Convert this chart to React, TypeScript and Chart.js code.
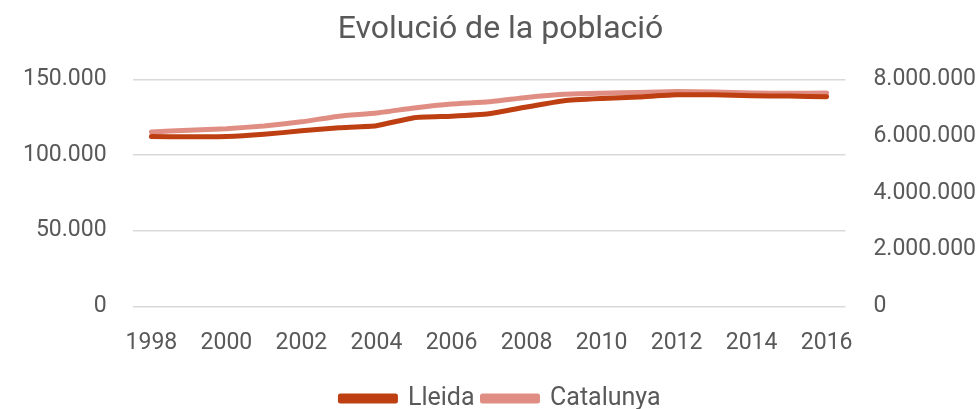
import React, { useEffect, useRef } from "react";
import { Chart, registerables } from "chart.js";

Chart.register(...registerables);

const years = ["1998","1999","2000","2001","2002","2003","2004","2005","2006","2007","2008","2009","2010","2011","2012","2013","2014","2015","2016"];
const lleida = [112194,112035,112199,113686,115995,118035,119380,124709,125677,127314,131731,135919,137387,138416,139834,139809,139176,138956,138542];
const catalunya = [6147610,6207533,6261999,6361365,6506440,6704146,6813319,6995206,7134697,7210508,7364078,7475420,7512381,7539618,7570908,7553650,7518903,7508106,7522596];

const fmt = (v: number) => Math.round(v).toString().replace(/\B(?=(\d{3})+(?!\d))/g, ".");

export default function App() {
  const ref = useRef<HTMLCanvasElement>(null);
  useEffect(() => {
    document.body.style.margin = "0";
    const font = "Roboto";
    const tickFont = { family: font, size: 23 };
    const chart = new Chart(ref.current!, {
      type: "line",
      data: {
        labels: years,
        datasets: [
          { label: "Lleida", data: lleida, borderColor: "#BE3F12", backgroundColor: "#BE3F12", borderWidth: 5, pointRadius: 0, yAxisID: "y", tension: 0.15, borderCapStyle: "round", borderJoinStyle: "round" },
          { label: "Catalunya", data: catalunya, borderColor: "#E08E83", backgroundColor: "#E08E83", borderWidth: 5, pointRadius: 0, yAxisID: "y1", tension: 0.15, borderCapStyle: "round", borderJoinStyle: "round" },
        ],
      },
      options: {
        animation: false,
        responsive: false,
        layout: { padding: { left: -3, right: -25, top: 0, bottom: -12 } },
        plugins: {
          title: { display: true, text: "Evolució de la població", color: "#595959", font: { family: font, size: 32, weight: "normal" }, padding: { top: 11, bottom: 30 } },
          legend: {
            position: "bottom",
            labels: { color: "#595959", font: { family: font, size: 25 }, boxWidth: 55, boxHeight: 5, padding: 8 },
          },
          tooltip: { enabled: false },
        },
        scales: {
          x: {
            offset: true,
            grid: { display: false },
            border: { display: false },
            afterFit: (s: any) => { s.height += 6; },
            ticks: { color: "#595959", font: tickFont, maxRotation: 0, autoSkip: false, padding: 15,
              callback: (_v: any, i: number) => (i % 2 === 0 ? years[i] : "") },
          },
          y: {
            position: "left",
            min: 0, max: 150000,
            ticks: { stepSize: 50000, color: "#595959", font: tickFont, padding: 26, callback: (v: any) => fmt(v) },
            grid: { color: "#d9d9d9", lineWidth: 1.5, drawTicks: false },
            border: { display: false },
          },
          y1: {
            position: "right",
            min: 0, max: 8000000,
            ticks: { stepSize: 2000000, color: "#595959", font: tickFont, padding: 28, callback: (v: any) => fmt(v) },
            grid: { drawOnChartArea: false, drawTicks: false },
            border: { display: false },
          },
        },
      } as any,
    });
    return () => chart.destroy();
  }, []);
  return (
    <div style={{ width: 979, height: 409 }}>
      <canvas ref={ref} width={979} height={409} />
    </div>
  );
}
